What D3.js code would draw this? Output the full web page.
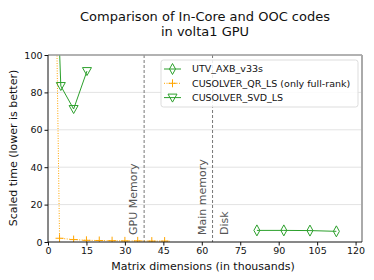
<!DOCTYPE html>
<html>
<head>
<meta charset="utf-8">
<script src="https://cdn.jsdelivr.net/npm/d3@7"></script>
<style>
  body { margin: 0; background: #fff; }
  svg { font-family: "DejaVu Sans", sans-serif; }
</style>
</head>
<body>
<div id="chart"></div>
<script>
// data (x in thousands)
var utvX = [81.5, 92, 102.2, 112.5]
var utvY = [6.2, 6.2, 6.1, 5.7]

var qrX = [2.5, 4.5, 10, 15, 20, 25, 30, 35, 40.5, 45.5, 47.5]
var qrY = [200, 2.0, 1.3, 0.9, 0.8, 0.7, 0.6, 0.6, 0.5, 0.5, 0.4]
var qrMarked = [false, true, true, true, true, true, true, true, true, true, false]

var svdX = [3, 5, 10, 15.2]
var svdY = [160, 83.4, 71.1, 91.4]

var memX = [37.5, 64.2]
var memLabels = ["GPU Memory", "Main memory", "Disk"]
var memLabelX = [34.6, 61.6, 70.2]

var xTicks = [0, 15, 30, 45, 60, 75, 90, 105, 120]
var yTicks = [0, 20, 40, 60, 80, 100]

var seriesNames = ["UTV_AXB_v33s", "CUSOLVER_QR_LS (only full-rank)", "CUSOLVER_SVD_LS"]

var W = 374, H = 280
var margin = { top: 55, right: 12, bottom: 38, left: 48 }
var green = "#2ca02c", orange = "#ffa500"

var svg = d3.select("#chart").append("svg")
    .attr("width", W).attr("height", H)

var iw = W - margin.left - margin.right
var ih = H - margin.top - margin.bottom

var x = d3.scaleLinear().domain([0, 122.5]).range([0, iw])
var y = d3.scaleLinear().domain([0, 100]).range([ih, 0])

var g = svg.append("g").attr("transform", "translate(" + margin.left + "," + margin.top + ")")

svg.append("defs").append("clipPath").attr("id", "clip")
    .append("rect").attr("width", iw).attr("height", ih)

// grid
g.selectAll(".grid").data(yTicks.slice(1, -1)).enter().append("line")
    .attr("x1", 0).attr("x2", iw)
    .attr("y1", function(d) { return y(d) }).attr("y2", function(d) { return y(d) })
    .attr("stroke", "#e3e3e3").attr("stroke-width", 1)

// memory limits
g.selectAll(".mem").data(memX).enter().append("line")
    .attr("x1", function(d) { return x(d) }).attr("x2", function(d) { return x(d) })
    .attr("y1", 0).attr("y2", ih)
    .attr("stroke", "#777").attr("stroke-width", 1).attr("stroke-dasharray", "3,2")

g.selectAll(".memlab").data(memLabels).enter().append("text")
    .attr("transform", function(d, i) { return "translate(" + x(memLabelX[i]) + "," + (ih - 7) + ") rotate(-90)" })
    .attr("font-size", 11).attr("fill", "#555")
    .text(function(d) { return d })

var plot = g.append("g").attr("clip-path", "url(#clip)")

function pts(xs, ys) { return xs.map(function(d, i) { return [d, ys[i]] }) }
var line = d3.line().x(function(d) { return x(d[0]) }).y(function(d) { return y(d[1]) })

// QR series
plot.append("path").datum(pts(qrX, qrY))
    .attr("d", line).attr("fill", "none")
    .attr("stroke", orange).attr("stroke-width", 1).attr("stroke-dasharray", "1,1.5")
plot.selectAll(".qr").data(pts(qrX, qrY).filter(function(d, i) { return qrMarked[i] })).enter()
    .append("path")
    .attr("transform", function(d) { return "translate(" + x(d[0]) + "," + y(d[1]) + ")" })
    .attr("d", "M-4,0H4M0,-4V4").attr("stroke", orange).attr("stroke-width", 1)

// SVD series
var tri = "M-4.5,-3.5L4.5,-3.5L0,4.5Z"
plot.append("path").datum(pts(svdX, svdY))
    .attr("d", line).attr("fill", "none").attr("stroke", green).attr("stroke-width", 1)
plot.selectAll(".svd").data(pts(svdX, svdY)).enter().append("path")
    .attr("transform", function(d) { return "translate(" + x(d[0]) + "," + y(d[1]) + ")" })
    .attr("d", tri).attr("fill", "none").attr("stroke", green).attr("stroke-width", 1)

// UTV series
var dia = "M0,-5.5L3,0L0,5.5L-3,0Z"
plot.append("path").datum(pts(utvX, utvY))
    .attr("d", line).attr("fill", "none").attr("stroke", green).attr("stroke-width", 1)
plot.selectAll(".utv").data(pts(utvX, utvY)).enter().append("path")
    .attr("transform", function(d) { return "translate(" + x(d[0]) + "," + y(d[1]) + ")" })
    .attr("d", dia).attr("fill", "none").attr("stroke", green).attr("stroke-width", 1)

// axes
var xAxis = g.append("g").attr("transform", "translate(0," + ih + ")")
    .call(d3.axisBottom(x).tickValues(xTicks).tickSize(3.5).tickPadding(2))
var yAxis = g.append("g")
    .call(d3.axisLeft(y).tickValues(yTicks).tickSize(3.5).tickPadding(2))
;[xAxis, yAxis].forEach(function(a) {
    a.select(".domain").remove()
    a.selectAll("text").attr("font-size", 9.5).attr("fill", "#111").attr("font-family", "DejaVu Sans")
    a.selectAll("line").attr("stroke", "#111")
})

// spines
g.append("line").attr("x1", 0).attr("x2", iw).attr("y1", 0).attr("y2", 0)
    .attr("stroke", "#999").attr("stroke-width", 1.5)
g.append("line").attr("x1", iw).attr("x2", iw).attr("y1", 0).attr("y2", ih)
    .attr("stroke", "#aaa").attr("stroke-width", 2)
g.append("line").attr("x1", 0).attr("x2", 0).attr("y1", 0).attr("y2", ih)
    .attr("stroke", "#111").attr("stroke-width", 1)
g.append("line").attr("x1", 0).attr("x2", iw).attr("y1", ih).attr("y2", ih)
    .attr("stroke", "#111").attr("stroke-width", 1)

// legend
var lg = g.append("g").attr("transform", "translate(" + (161 - margin.left) + "," + (60 - margin.top) + ")")
lg.append("rect").attr("width", 197).attr("height", 47).attr("rx", 2.5)
    .attr("fill", "#fff").attr("fill-opacity", 0.85).attr("stroke", "#ddd")
var legendMarks = [
    { color: green, dash: null, shape: dia },
    { color: orange, dash: "1,1.5", shape: "M-4,0H4M0,-4V4" },
    { color: green, dash: null, shape: tri }
]
var items = lg.selectAll(".item").data(seriesNames).enter().append("g")
    .attr("transform", function(d, i) { return "translate(0," + (9 + i * 14.3) + ")" })
items.append("line").attr("x1", 3).attr("x2", 20)
    .attr("stroke", function(d, i) { return legendMarks[i].color })
    .attr("stroke-dasharray", function(d, i) { return legendMarks[i].dash })
items.append("path").attr("transform", "translate(11.5,0)")
    .attr("d", function(d, i) { return legendMarks[i].shape })
    .attr("fill", "none").attr("stroke", function(d, i) { return legendMarks[i].color })
items.append("text").attr("x", 31).attr("dy", "0.35em")
    .attr("font-size", 9.5).attr("fill", "#111")
    .text(function(d) { return d })

// labels
svg.append("text").attr("x", margin.left + iw / 2 - 2).attr("y", 270)
    .attr("text-anchor", "middle").attr("font-size", 11).attr("fill", "#111")
    .text("Matrix dimensions (in thousands)")
svg.append("text").attr("transform", "translate(17,148) rotate(-90)")
    .attr("text-anchor", "middle").attr("font-size", 11).attr("fill", "#111")
    .text("Scaled time (lower is better)")
var title = svg.append("text").attr("text-anchor", "middle").attr("font-size", 13).attr("fill", "#111")
title.append("tspan").attr("x", 205).attr("y", 21).text("Comparison of In-Core and OOC codes")
title.append("tspan").attr("x", 205).attr("y", 36).text("in volta1 GPU")
</script>
</body>
</html>
